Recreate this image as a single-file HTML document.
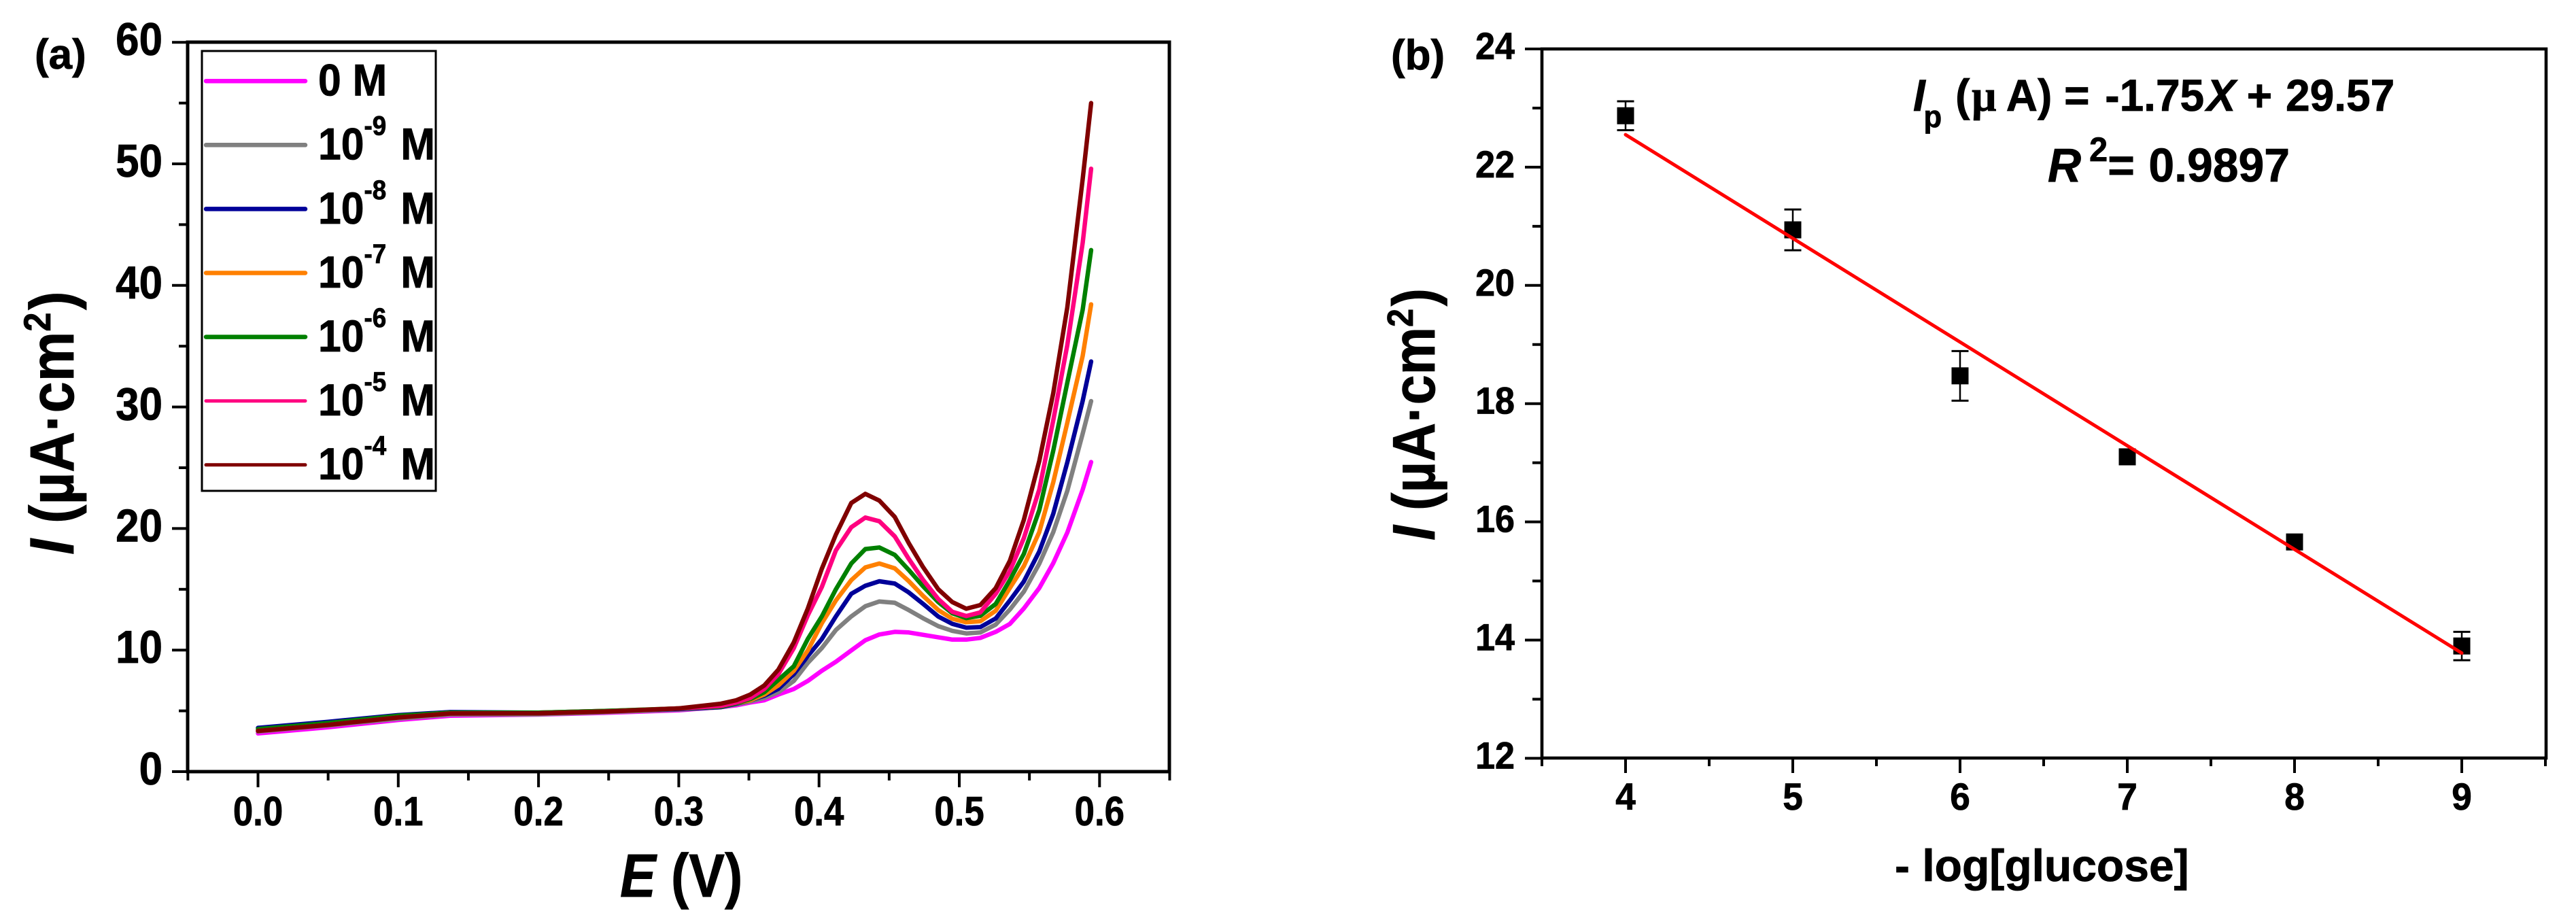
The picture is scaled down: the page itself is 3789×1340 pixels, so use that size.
<!DOCTYPE html>
<html lang="en">
<head>
<meta charset="utf-8">
<title>Glucose sensing voltammetry and calibration</title>
<style>
html,body{margin:0;padding:0;background:#fff;}
svg{display:block;}
text{font-family:"Liberation Sans",sans-serif;font-weight:bold;fill:#000;stroke:#000;stroke-width:.8px;}
.sym{font-family:"Liberation Serif","Liberation Sans",sans-serif;}
</style>
</head>
<body>
<svg id="figure" xmlns="http://www.w3.org/2000/svg" width="3789" height="1340" viewBox="0 0 3789 1340">
  <rect x="0" y="0" width="3789" height="1340" fill="#fff"/>

  <g id="panelA">
    <text font-size="62" transform="translate(51,101)">(a)</text>
    <g id="marksA"></g>
    <g id="axesA"></g>
    <rect x="297" y="75" width="344" height="647" fill="none" stroke="#000" stroke-width="3"/>
    <g id="legendA"></g>
    <text font-size="92" transform="translate(108,816) rotate(-90) scale(.9,1)"><tspan font-style="italic">I</tspan> (µA·cm<tspan font-size="56" dy="-34">2</tspan><tspan dy="34" dx="4">)</tspan></text>
    <text font-size="90" transform="translate(912,1319) scale(.88,1)"><tspan font-style="italic">E</tspan> (V)</text>
  </g>

  <g id="panelB">
    <text font-size="62" transform="translate(2046,102)">(b)</text>
    <g id="marksB"></g>
    <g id="axesB"></g>
    <text font-size="66" transform="translate(2814,163) scale(.97,1)"><tspan x="0" font-style="italic">I</tspan><tspan x="16" dy="24" font-size="45">p</tspan><tspan x="64" dy="-24">(</tspan><tspan class="sym" x="88.6">µ</tspan><tspan x="141">A)</tspan><tspan x="229">=</tspan><tspan x="291">-1.75</tspan><tspan x="445" font-style="italic">X</tspan><tspan x="506">+</tspan><tspan x="565">29.57</tspan></text>
    <text font-size="70" transform="translate(3012,267) scale(.97,1)"><tspan x="0" font-style="italic">R</tspan><tspan x="63" dy="-30" font-size="50">2</tspan><tspan x="91" dy="30">=</tspan><tspan x="153">0.9897</tspan></text>
    <text font-size="88" transform="translate(2110,795) rotate(-90) scale(.9,1)"><tspan font-style="italic">I</tspan> (µA·cm<tspan font-size="54" dy="-32">2</tspan><tspan dy="32" dx="4">)</tspan></text>
    <text font-size="66" transform="translate(2787,1296)">- log[glucose]</text>
  </g>
</svg>

<script>
// ---------- Panel (a) data ----------
const potentialE = [0,0.05,0.1,0.137,0.2,0.25,0.3,0.33,0.341,0.351,0.361,0.371,0.382,0.392,0.402,0.412,0.423,0.433,0.443,0.454,0.464,0.474,0.485,0.495,0.505,0.515,0.526,0.536,0.546,0.557,0.567,0.577,0.588,0.594];
const current0M   = [3.15,3.65,4.25,4.6,4.7,4.85,5.05,5.31,5.46,5.69,5.87,6.34,6.8,7.46,8.3,9.04,9.97,10.81,11.28,11.5,11.45,11.26,11.05,10.86,10.86,11.0,11.5,12.15,13.42,15.1,17.15,19.67,23.2,25.47];
const current1e9  = [3.3,3.8,4.35,4.7,4.72,4.9,5.1,5.3,5.54,5.78,6.06,6.53,7.46,8.95,10.16,11.65,12.77,13.61,14.0,13.89,13.29,12.63,11.97,11.58,11.37,11.45,12.1,13.33,14.8,17.1,19.7,23.1,27.8,30.48];
const current1e8  = [3.6,4.1,4.65,4.9,4.85,5.0,5.15,5.31,5.59,5.87,6.25,6.81,8.02,9.51,10.91,12.77,14.63,15.29,15.66,15.47,14.74,13.82,12.76,12.16,11.84,11.89,12.6,14.07,15.64,18.1,21.2,25.45,30.5,33.74];
const current1e7  = [3.45,3.95,4.55,4.85,4.85,5.0,5.2,5.35,5.63,5.87,6.34,7.09,8.3,9.97,12.21,14.08,15.75,16.8,17.12,16.72,15.67,14.48,13.29,12.58,12.29,12.37,13.24,15.1,16.9,19.7,23.8,28.7,34.2,38.44];
const current1e6  = [3.5,4.0,4.6,4.85,4.85,5.0,5.2,5.35,5.63,5.97,6.53,7.55,8.67,10.91,12.77,15.0,17.12,18.31,18.44,17.83,16.59,15.27,13.95,13.03,12.63,12.82,13.8,15.75,17.9,21.5,26.4,32.0,38.0,42.9];
const current1e5  = [3.35,3.85,4.45,4.78,4.8,4.95,5.2,5.41,5.69,6.06,6.8,8.02,10.16,12.86,15.19,18.2,20.1,20.9,20.6,19.35,17.5,15.8,14.2,13.15,12.8,13.1,14.63,16.5,19.2,23.2,28.9,35.1,43.5,49.6];
const current1e4  = [3.35,3.85,4.45,4.78,4.8,4.95,5.2,5.59,5.87,6.34,7.09,8.39,10.63,13.42,16.69,19.5,22.1,22.85,22.3,20.95,18.8,16.85,15.0,13.95,13.4,13.7,15.1,17.34,20.7,25.54,31.13,38.2,48.75,55.0];
const legendExponents = ['', '-9', '-8', '-7', '-6', '-5', '-4'];
const yTicksA = ['0','10','20','30','40','50','60'];
const yMinorA = [5,15,25,35,45,55];
const xTicksA = ['0.0','0.1','0.2','0.3','0.4','0.5','0.6'];
const xMinorA = [-0.05,0.05,0.15,0.25,0.35,0.45,0.55,0.65];

// ---------- Panel (b) data ----------
const logConc = [4,5,6,7,8,9];
const peakCurrent = [22.87,20.94,18.47,17.10,15.66,13.90];
const peakError = [0.245,0.345,0.42,0.1,0.05,0.24];
const fitX = [4,9];
const fitY = [22.55,13.78];
const yTicksB = ['12','14','16','18','20','22','24'];
const yMinorB = [13,15,17,19,21,23];
const xTicksB = ['4','5','6','7','8','9'];
const xMinorB = [3.5,4.5,5.5,6.5,7.5,8.5,9.5];

const NS = 'http://www.w3.org/2000/svg';
function mk(tag, attrs, parent){
  const el = document.createElementNS(NS, tag);
  for (const k in attrs) el.setAttribute(k, attrs[k]);
  parent.appendChild(el);
  return el;
}
// axis functions
function xA(v){ return 379.5 + 2063 * v; }
function yA(v){ return 1135 - 17.88 * v; }
function xB(v){ return 2391 + 246 * (v - 4); }
function yB(v){ return 72 + 86.95 * (24 - v); }

function drawAxes(group, box, sw, xFn, yFn, xMaj, xMin, yMaj, yMin, lens, xLab, yLab){
  const frame = mk('rect', {x:box[0], y:box[1], width:box[2], height:box[3], fill:'none', stroke:'#000', 'stroke-width':sw}, group);
  
  
  const left = box[0], bottom = box[1] + box[3];
  yMaj.forEach(function(t){
    const v = parseFloat(t), y = yFn(v);
    const tick = mk('line', {x1:left, x2:left - lens.yMaj, y1:y, y2:y, stroke:'#000', 'stroke-width':4}, group);
    
    
    const label = mk('text', {'font-size':yLab.size, 'text-anchor':'end', transform:'translate(' + yLab.x + ',' + (y + yLab.dy) + ') scale(' + yLab.sx + ',1)'}, group);
    label.textContent = t;
    
    
  });
  yMin.forEach(function(v){
    const y = yFn(v);
    const tick = mk('line', {x1:left, x2:left - lens.yMin, y1:y, y2:y, stroke:'#000', 'stroke-width':4}, group);
    
    
  });
  xMaj.forEach(function(t){
    const v = parseFloat(t), x = xFn(v);
    const tick = mk('line', {x1:x, x2:x, y1:bottom, y2:bottom + lens.xMaj, stroke:'#000', 'stroke-width':4}, group);
    
    
    const label = mk('text', {'font-size':xLab.size, 'text-anchor':'middle', transform:'translate(' + x + ',' + xLab.y + ') scale(' + xLab.sx + ',1)'}, group);
    label.textContent = t;
    
    
  });
  xMin.forEach(function(v){
    const x = xFn(v);
    const tick = mk('line', {x1:x, x2:x, y1:bottom, y2:bottom + lens.xMin, stroke:'#000', 'stroke-width':4}, group);
    
    
  });
}

// Panel (a)
drawAxes(document.getElementById('axesA'), [276,62,1444,1073], 5, xA, yA, xTicksA, xMinorA, yTicksA, yMinorA,
  {yMaj:23, yMin:13, xMaj:23, xMin:13}, {size:60, y:1214, sx:.88}, {size:68, x:239, dy:19, sx:.91});

const curvesInOrder = [current0M, current1e9, current1e8, current1e7, current1e6, current1e5, current1e4];
const curveColors = ['#ff00ff','#808080','#000099','#ff8000','#008000','#ff0080','#800000'];
const marksA = document.getElementById('marksA');
const legendA = document.getElementById('legendA');
curvesInOrder.forEach(function(values, i){
  const pts = values.map(function(v, k){ return xA(potentialE[k]).toFixed(1) + ',' + yA(v).toFixed(1); }).join(' ');
  const line = mk('polyline', {points:pts, fill:'none', stroke:curveColors[i], 'stroke-width':6.5, 'stroke-linejoin':'round', 'stroke-linecap':'round'}, marksA);
  
  

  const rowY = 119.2 + 94.1 * i;
  const swatch = mk('line', {x1:303, x2:449, y1:rowY, y2:rowY, stroke:curveColors[i], 'stroke-width':i > 4 ? 5 : 6.5, 'stroke-linecap':'round'}, legendA);
  
  
  const label = mk('text', {'font-size':66, transform:'translate(468,' + (140.6 + 94.1 * i) + ') scale(.92,1)'}, legendA);
  
  
  if (legendExponents[i]) {
    const base = mk('tspan', {}, label);
    base.textContent = '10';
    const sup = mk('tspan', {'font-size':40, dy:-36}, label);
    sup.textContent = legendExponents[i];
    const unit = mk('tspan', {dy:36, dx:23}, label);
    unit.textContent = 'M';
  } else {
    label.textContent = '0 M';
  }
});

// Panel (b)
drawAxes(document.getElementById('axesB'), [2268,72,1477,1043], 4.6, xB, yB, xTicksB, xMinorB, yTicksB, yMinorB,
  {yMaj:25, yMin:14, xMaj:22, xMin:12}, {size:56, y:1191, sx:.95}, {size:56, x:2228, dy:15, sx:.93});

const marksB = document.getElementById('marksB');
logConc.forEach(function(c, i){
  const x = xB(c), y = yB(peakCurrent[i]);
  const top = yB(peakCurrent[i] + peakError[i]), bot = yB(peakCurrent[i] - peakError[i]);
  const stem = mk('line', {x1:x, x2:x, y1:top, y2:bot, stroke:'#000', 'stroke-width':2.5}, marksB);
  
  
  const capTop = mk('line', {x1:x - 12.5, x2:x + 12.5, y1:top, y2:top, stroke:'#000', 'stroke-width':3}, marksB);
  
  
  const capBot = mk('line', {x1:x - 12.5, x2:x + 12.5, y1:bot, y2:bot, stroke:'#000', 'stroke-width':3}, marksB);
  
  
  const square = mk('rect', {x:x - 12.5, y:y - 12.5, width:25, height:25, fill:'#000'}, marksB);
  
  
});
const fit = mk('line', {x1:xB(fitX[0]), y1:yB(fitY[0]), x2:xB(fitX[1]), y2:yB(fitY[1]), stroke:'#ff0000', 'stroke-width':5, 'stroke-linecap':'round'}, marksB);


</script>
</body>
</html>
